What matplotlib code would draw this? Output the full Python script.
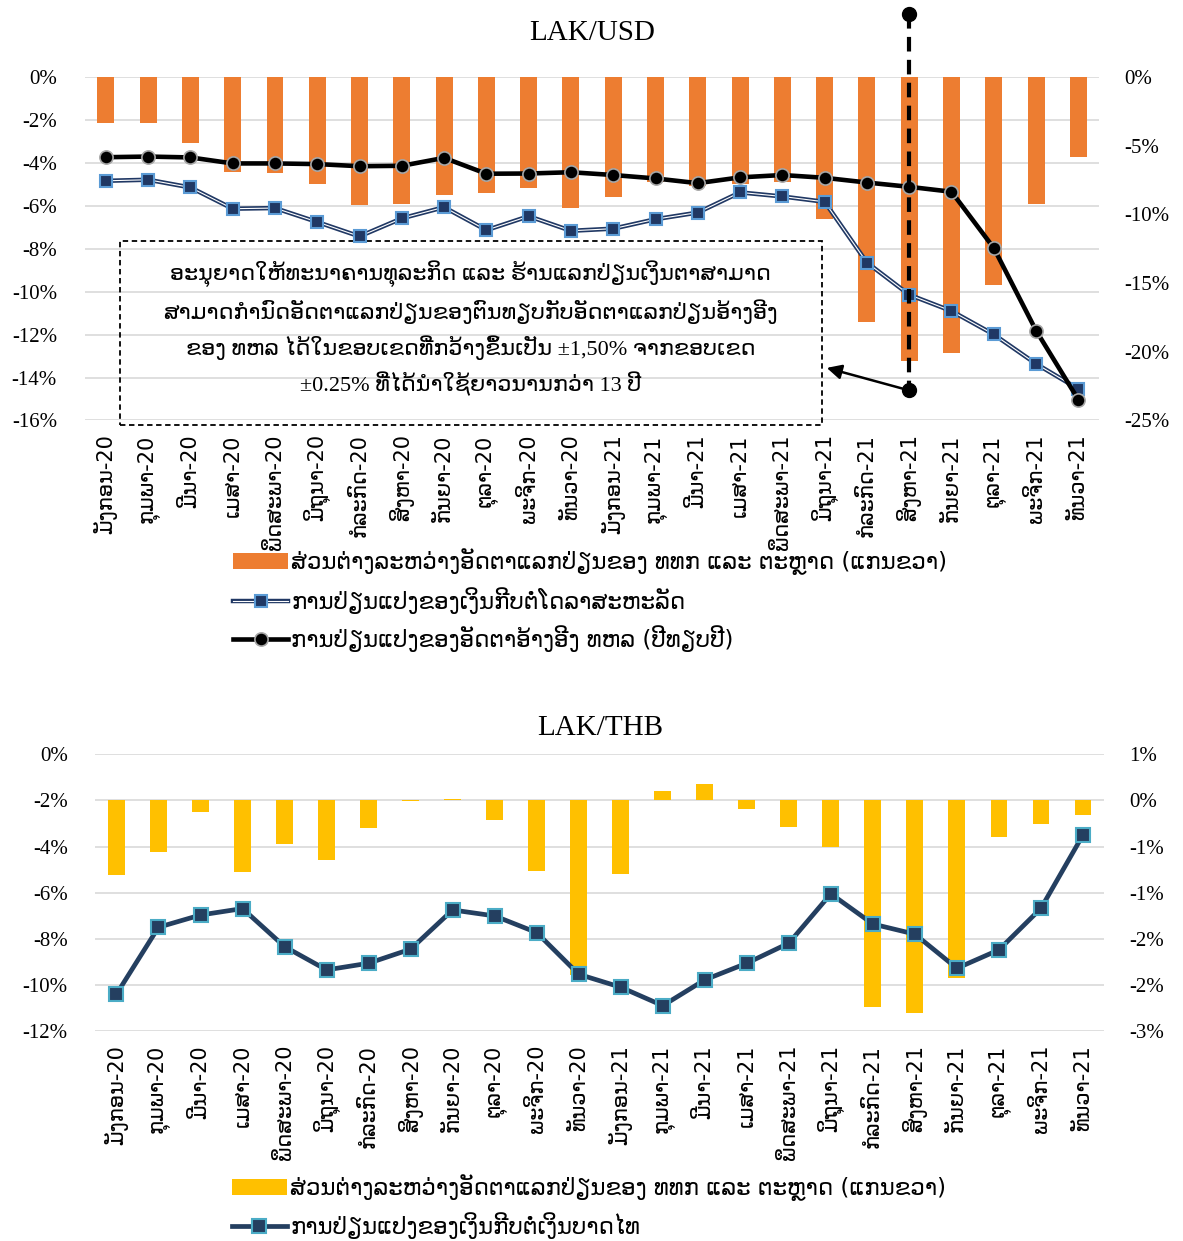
"""Lao kip exchange-rate charts: LAK/USD (top) and LAK/THB (bottom).

Bars = spread between commercial-bank and market rates (right axis),
lines = year-on-year change of the kip (left axis).
"""

import math

import matplotlib
matplotlib.use("Agg")
import matplotlib.pyplot as plt
from matplotlib.lines import Line2D
from matplotlib.patches import Patch, Rectangle
from matplotlib.ticker import FixedLocator, FuncFormatter

plt.rcParams["font.family"] = ["Liberation Serif", "DejaVu Sans"]

MONTHS = ["ມັງກອນ", "ກຸມພາ", "ມີນາ", "ເມສາ", "ພຶດສະພາ", "ມິຖຸນາ",
          "ກໍລະກົດ", "ສິງຫາ", "ກັນຍາ", "ຕຸລາ", "ພະຈິກ", "ທັນວາ"]
CATEGORIES = [f"{m}-{y}" for y in ("20", "21") for m in MONTHS]

# LAK/USD, values in %
USD_SPREAD = [-3.35, -3.33, -4.8, -6.9, -7.0, -7.8, -9.3, -9.2, -8.6, -8.4, -8.1, -9.5,
              -8.7, -7.6, -7.9, -7.8, -7.6, -10.3, -17.8, -20.7, -20.1, -15.1, -9.2, -5.8]
USD_CHANGE = [-4.83, -4.78, -5.14, -6.13, -6.10, -6.75, -7.42, -6.58, -6.06, -7.13, -6.48, -7.16,
              -7.06, -6.62, -6.31, -5.37, -5.56, -5.81, -8.64, -10.14, -10.90, -11.99, -13.36, -14.53]
REF_CHANGE = [-3.73, -3.70, -3.74, -4.02, -4.02, -4.05, -4.15, -4.13, -3.76, -4.50, -4.49, -4.43,
              -4.56, -4.72, -4.94, -4.67, -4.56, -4.69, -4.91, -5.11, -5.34, -7.96, -11.81, -15.03]

# LAK/THB, values in %
THB_SPREAD = [-0.81, -0.56, -0.13, -0.78, -0.47, -0.65, -0.30, -0.01, 0.015, -0.21, -0.76, -1.89,
              -0.80, 0.10, 0.18, -0.09, -0.29, -0.51, -2.24, -2.30, -1.93, -0.40, -0.26, -0.16]
THB_CHANGE = [-10.40, -7.50, -6.97, -6.69, -8.34, -9.35, -9.06, -8.45, -6.75, -7.01, -7.73, -9.54,
              -10.10, -10.90, -9.78, -9.06, -8.19, -6.05, -7.36, -7.80, -9.28, -8.48, -6.68, -3.50]

SPREAD_LABEL = "ສ່ວນຕ່າງລະຫວ່າງອັດຕາແລກປ່ຽນຂອງ ທທກ ແລະ ຕະຫຼາດ (ແກນຂວາ)"
USD_LABEL = "ການປ່ຽນແປງຂອງເງິນກີບຕໍ່ໂດລາສະຫະລັດ"
REF_LABEL = "ການປ່ຽນແປງຂອງອັດຕາອ້າງອີງ ທຫລ (ປີທຽບປີ)"
THB_LABEL = "ການປ່ຽນແປງຂອງເງິນກີບຕໍ່ເງິນບາດໄທ"
NOTE = ("ອະນຸຍາດໃຫ້ທະນາຄານທຸລະກິດ ແລະ ຮ້ານແລກປ່ຽນເງິນຕາສາມາດ\n"
        "ສາມາດກຳນົດອັດຕາແລກປ່ຽນຂອງຕົນທຽບກັບອັດຕາແລກປ່ຽນອ້າງອີງ\n"
        "ຂອງ ທຫລ ໄດ້ໃນຂອບເຂດທີ່ກວ້າງຂຶ້ນເປັນ ±1,50% ຈາກຂອບເຂດ\n"
        "±0.25% ທີ່ໄດ້ນຳໃຊ້ຍາວນານກວ່າ 13 ປີ")

ORANGE = "#ED7D31"
YELLOW = "#FFC000"
NAVY = "#203864"
GRID = "#D9D9D9"
TICK_FS = 15
CAT_FS = 12.5
LEG_FS = 16.5


def pct(v, pos=None):
    # Excel style: round half away from zero, no "-0%"
    r = math.floor(abs(v) + 0.5 + 1e-9)
    return f"{'-' if v < 0 and r != 0 else ''}{r}%"


def setup_axes(ax, ax2, left_ticks, right_ticks):
    x = range(len(CATEGORIES))
    ax.set_xlim(-0.5, len(CATEGORIES) - 0.5)
    ax.set_ylim(min(left_ticks), max(left_ticks))
    ax2.set_ylim(min(right_ticks), max(right_ticks))
    ax.yaxis.set_major_locator(FixedLocator(left_ticks))
    ax2.yaxis.set_major_locator(FixedLocator(right_ticks))
    ax.yaxis.set_major_formatter(FuncFormatter(pct))
    ax2.yaxis.set_major_formatter(FuncFormatter(pct))
    ax.grid(True, axis="y", color=GRID, linewidth=1.2)
    ax.set_xticks(list(x))
    ax.set_xticklabels(CATEGORIES, rotation=90, fontsize=CAT_FS, family="DejaVu Sans")
    for a in (ax, ax2):
        for s in a.spines.values():
            s.set_visible(False)
        a.tick_params(length=0, labelsize=TICK_FS)
    ax.tick_params(axis="y", pad=20)
    ax2.tick_params(axis="y", pad=18)
    ax.tick_params(axis="x", pad=10)


def legend(handles, labels, anchor):
    fig.legend(handles=handles, labels=labels, loc="upper left", bbox_to_anchor=anchor,
               frameon=False, prop={"family": "DejaVu Sans", "size": LEG_FS},
               handlelength=2.4, handletextpad=0.15, labelspacing=0.5,
               borderpad=0, borderaxespad=0)


fig = plt.figure(figsize=(11.83, 12.41), dpi=100)

# ---------------- LAK/USD ----------------
ax = fig.add_axes([0.0716, 0.6612, 0.8578, 0.2766])
ax2 = ax.twinx()
setup_axes(ax, ax2, list(range(-16, 1, 2)), list(range(-25, 1, 5)))
x = list(range(len(CATEGORIES)))

ax2.bar(x, USD_SPREAD, width=0.4, color=ORANGE, zorder=1)
# lines use the left scale but sit above the bars
ax2.plot(x, USD_CHANGE, color=NAVY, lw=3.2, transform=ax.transData, zorder=3)
ax2.plot(x, USD_CHANGE, color="white", lw=0.8, transform=ax.transData, zorder=3)
ax2.plot(x, USD_CHANGE, ls="none", marker="s", ms=9, mfc=NAVY, mec="#5B9BD5", mew=1.5,
         transform=ax.transData, zorder=4)
ax2.plot(x, REF_CHANGE, color="black", lw=3.3, marker="o", ms=9.5, mfc="black",
         mec="#A6A6A6", mew=1.2, transform=ax.transData, zorder=5)

# policy change marker on Aug-21
aug = CATEGORIES.index("ສິງຫາ-21")
ax2.plot([aug, aug], [2.95, -14.6], color="black", lw=3, dashes=(3.5, 2), marker="o",
         ms=10, transform=ax.transData, clip_on=False, zorder=6)
ax.annotate("", xy=(17.05, -13.55), xytext=(aug, -14.6), annotation_clip=False,
            arrowprops=dict(arrowstyle="-|>", color="black", lw=1.8, mutation_scale=22,
                            shrinkA=0, shrinkB=0))
ax.add_patch(Rectangle((0.34, -16.2), 16.59, 8.55, fill=False, edgecolor="black",
                       linewidth=1.3, linestyle=(0, (3, 2)), clip_on=False, zorder=2))
ax.text(8.63, -11.72, NOTE, ha="center", va="center", fontsize=16, linespacing=1.6)

ax.set_title("LAK/USD", fontsize=21, pad=27)

legend(
    [
        Patch(facecolor=ORANGE),
        (Line2D([], [], color=NAVY, lw=3.2), Line2D([], [], color="white", lw=0.8),
         Line2D([], [], ls="none", marker="s", ms=9, mfc=NAVY, mec="#5B9BD5", mew=1.5)),
        Line2D([], [], color="black", lw=3.3, marker="o", ms=9.5, mfc="black",
               mec="#A6A6A6", mew=1.2),
    ],
    [SPREAD_LABEL, USD_LABEL, REF_LABEL],
    (0.197, 0.558),
)

# ---------------- LAK/THB ----------------
bx = fig.add_axes([0.0807, 0.1692, 0.8525, 0.2230])
bx2 = bx.twinx()
setup_axes(bx, bx2, list(range(-12, 1, 2)), [-2.5, -2.0, -1.5, -1.0, -0.5, 0.0, 0.5])

bx2.bar(x, THB_SPREAD, width=0.4, color=YELLOW, zorder=1)
bx2.plot(x, THB_CHANGE, color="#243F60", lw=3.4, marker="s", ms=10.5, mfc="#243F60",
         mec="#4BACC6", mew=1.5, transform=bx.transData, zorder=4)
bx.set_title("LAK/THB", fontsize=21, pad=14)

legend(
    [
        Patch(facecolor=YELLOW),
        Line2D([], [], color="#243F60", lw=3.4, marker="s", ms=10.5, mfc="#243F60",
               mec="#4BACC6", mew=1.5),
    ],
    [SPREAD_LABEL, THB_LABEL],
    (0.196, 0.054),
)

fig.savefig("out.png", dpi=100, facecolor="white")
